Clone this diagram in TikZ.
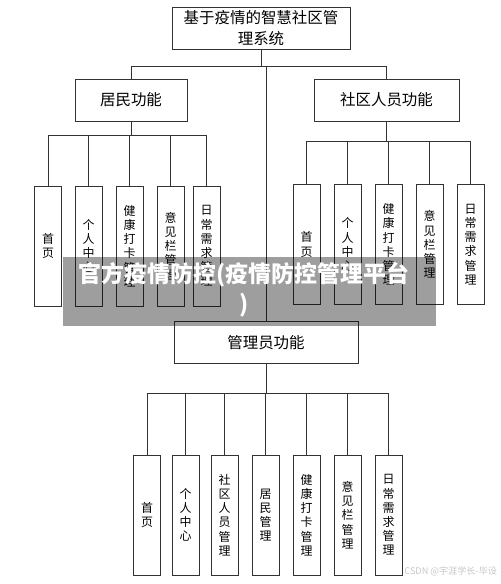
\documentclass[tikz,border=0pt]{standalone}
\usepackage{fontspec}
\setmainfont{Noto Sans CJK SC}
\usepackage{xcolor}

\begin{document}
\begin{tikzpicture}[x=0.025cm, y=-0.025cm, line width=0.6pt, draw=black!80,
  top node/.style={draw=black!80, inner sep=0, minimum width=4.45cm, minimum height=1.05cm, align=center, font=\fontsize{11}{15.5}\selectfont},
  mid node/.style={draw=black!80, inner sep=0, minimum height=1.05cm, font=\fontsize{11}{13}\selectfont},
  leaf node/.style={draw=black!80, inner sep=0, minimum width=0.675cm, minimum height=3cm, align=center, font=\fontsize{8.5}{10.1}\selectfont}]
\useasboundingbox (0,0) rectangle (500,584);
% system and function groups
\node[top node] (sys) at (261,28) {基于疫情的智慧社区管\\理系统};
\node[mid node, minimum width=2.8cm] (res) at (131,100) {居民功能};
\node[mid node, minimum width=3.625cm] (com) at (386.5,100) {社区人员功能};
\node[mid node, minimum width=4.6cm] (adm) at (266,342.5) {管理员功能};
% resident functions
\node[leaf node] (r1) at (48,246) {首\\页};
\node[leaf node] (r2) at (88.5,246) {个\\人\\中\\心};
\node[leaf node] (r3) at (129.5,246) {健\\康\\打\\卡\\管\\理};
\node[leaf node] (r4) at (170.5,246) {意\\见\\栏\\管\\理};
\node[leaf node] (r5) at (206.5,246) {日\\常\\需\\求\\管\\理};
% community staff functions
\node[leaf node] (c1) at (306.5,244.5) {首\\页};
\node[leaf node] (c2) at (347.5,244.5) {个\\人\\中\\心};
\node[leaf node] (c3) at (388.5,244.5) {健\\康\\打\\卡\\管\\理};
\node[leaf node] (c4) at (429.5,244.5) {意\\见\\栏\\管\\理};
\node[leaf node] (c5) at (470.5,244.5) {日\\常\\需\\求\\管\\理};
% admin functions
\node[leaf node] (a1) at (147,515) {首\\页};
\node[leaf node] (a2) at (185.5,515) {个\\人\\中\\心};
\node[leaf node] (a3) at (224.5,515) {社\\区\\人\\员\\管\\理};
\node[leaf node] (a4) at (265.5,515) {居\\民\\管\\理};
\node[leaf node] (a5) at (306.5,515) {健\\康\\打\\卡\\管\\理};
\node[leaf node] (a6) at (347.5,515) {意\\见\\栏\\管\\理};
\node[leaf node] (a7) at (388.5,515) {日\\常\\需\\求\\管\\理};
% junctions
\coordinate (j0) at (261,66);
\coordinate (j1) at (131,135);
\coordinate (j2) at (386.5,141);
\coordinate (j3) at (266,393);
\draw (sys.south) -- (j0) -| (res.north);
\draw (j0) -| (com.north);
\draw (adm.north) -- (adm.north |- j0);
\draw (res.south) -- (j1);
\draw (j1) -| (r1.north) (j1) -| (r2.north) (j1) -| (r3.north) (j1) -| (r4.north) (j1) -| (r5.north);
\draw (com.south) -- (j2);
\draw (j2) -| (c1.north) (j2) -| (c2.north) (j2) -| (c3.north) (j2) -| (c4.north) (j2) -| (c5.north);
\draw (adm.south) -- (j3);
\draw (j3) -| (a1.north) (j3) -| (a2.north) (j3) -| (a3.north) (j3) -| (a4.north) (j3) -| (a5.north) (j3) -| (a6.north) (j3) -| (a7.north);
% overlay band
\fill[black, opacity=0.38] (63,257) rectangle (436,326);
\node[text=white, align=center, font=\bfseries\fontsize{16.3}{21.3}\selectfont] (band) at (244,290) {官方疫情防控(疫情防控管理平台\\)};
\node[anchor=west, inner sep=0, text=black!22, font=\fontsize{6.5}{7}\selectfont] (csdn) at (404,571) {CSDN @宇涯学长-毕设};
\end{tikzpicture}
\end{document}
